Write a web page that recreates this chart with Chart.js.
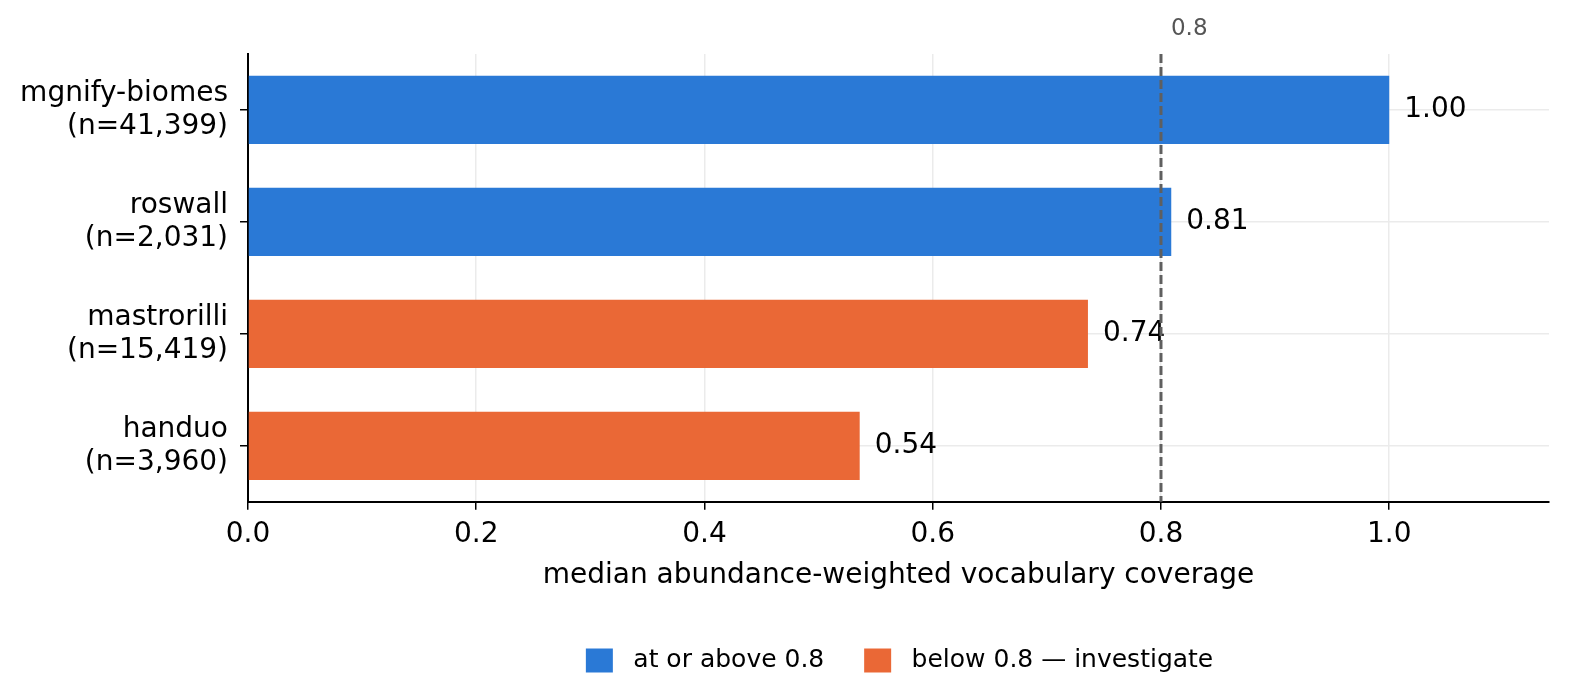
<html lang="en">
<head>
<meta charset="UTF-8">
<title>Vocabulary coverage</title>
<script src="https://cdn.jsdelivr.net/npm/chart.js"></script>
<style>
  body { margin: 0; background: #fff; }
</style>
</head>
<body>
<canvas id="coverage" width="1570" height="695"></canvas>
<script>
// data
const studies = ['mgnify-biomes', 'roswall', 'mastrorilli', 'handuo'];
const sampleCounts = ['41,399', '2,031', '15,419', '3,960'];
const coverage = [1.00, 0.809, 0.736, 0.536];
const threshold = 0.8;
const xTicks = [0.0, 0.2, 0.4, 0.6, 0.8, 1.0];
const xMax = 1.14;

const blue = '#2a79d6';
const orange = '#ea6836';

const labels = studies.map((s, i) => [s, '(n=' + sampleCounts[i] + ')']);
const above = coverage.map(v => v >= threshold ? v : null);
const below = coverage.map(v => v < threshold ? v : null);

// dashed threshold line, its label, and value labels at bar ends
const annotate = {
    id: 'annotate',
    afterLayout(chart) {
        // centre the legend under the plot area rather than the canvas
        const lg = chart.legend, area = chart.chartArea;
        const shift = (area.left + area.right) / 2 - (lg.left + lg.right) / 2 + 9;
        lg.left += shift;
        lg.right += shift;
    },
    afterDatasetsDraw(chart) {
        const ctx = chart.ctx;
        const area = chart.chartArea;
        const xs = chart.scales.x;

        ctx.save();
        ctx.font = '28px "DejaVu Sans"';
        ctx.fillStyle = '#000';
        ctx.textAlign = 'left';
        ctx.textBaseline = 'middle';
        chart.data.datasets.forEach((ds, di) => {
            chart.getDatasetMeta(di).data.forEach((bar, i) => {
                if (ds.data[i] == null) return;
                ctx.fillText(ds.data[i].toFixed(2), bar.x + 15, bar.y);
            });
        });

        const tx = xs.getPixelForValue(threshold);
        ctx.strokeStyle = '#5f5f5f';
        ctx.lineWidth = 3;
        ctx.setLineDash([9, 4]);
        ctx.beginPath();
        ctx.moveTo(tx, area.top);
        ctx.lineTo(tx, area.bottom);
        ctx.stroke();

        ctx.fillStyle = '#555';
        ctx.font = '23px "DejaVu Sans"';
        ctx.fillText(threshold.toString(), tx + 10, 29);
        ctx.restore();
    }
};

Chart.defaults.font.family = '"DejaVu Sans"';

// widen the gaps around legend texts a little, as in the source figure
const legendLabels = chart =>
    Chart.defaults.plugins.legend.labels.generateLabels(chart)
        .map(l => Object.assign(l, { text: ' ' + l.text + '  ' }));

const ctx = document.getElementById('coverage').getContext('2d');
new Chart(ctx, {
    type: 'bar',
    data: {
        labels: labels,
        datasets: [
            { label: 'at or above 0.8', data: above, backgroundColor: blue },
            { label: 'below 0.8 \u2014 investigate', data: below, backgroundColor: orange }
        ]
    },
    options: {
        indexAxis: 'y',
        responsive: false,
        animation: false,
        devicePixelRatio: 1,
        barPercentage: 0.61,
        categoryPercentage: 1.0,
        layout: { padding: { top: 54, right: 21, bottom: 12, left: 0 } },
        scales: {
            x: {
                stacked: true,
                min: 0,
                max: xMax,
                afterBuildTicks: s => { s.ticks = xTicks.map(v => ({ value: v })); },
                grid: { color: '#ebebeb', lineWidth: 1.5, tickColor: '#000', tickLength: 8, tickWidth: 1.5 },
                border: { color: '#000', width: 2 },
                ticks: { color: '#000', font: { size: 28 }, padding: 8, maxRotation: 0,
                         callback: v => Number(v).toFixed(1) },
                title: {
                    display: true,
                    text: 'median abundance-weighted vocabulary coverage',
                    color: '#000',
                    font: { size: 28 },
                    padding: { top: 0, bottom: 31 }
                }
            },
            y: {
                stacked: true,
                afterFit: s => { s.width = 248; },
                grid: { offset: false, color: '#ebebeb', lineWidth: 1.5, tickColor: '#000', tickLength: 8, tickWidth: 1.5 },
                border: { color: '#000', width: 2 },
                ticks: { color: '#000', font: { size: 28, lineHeight: 1.18 }, padding: 12 }
            }
        },
        plugins: {
            legend: {
                position: 'bottom',
                labels: { boxWidth: 27, boxHeight: 24, color: '#000', font: { size: 25 }, padding: 24,
                          generateLabels: legendLabels }
            },
            tooltip: { enabled: false }
        }
    },
    plugins: [annotate]
});
</script>
</body>
</html>
